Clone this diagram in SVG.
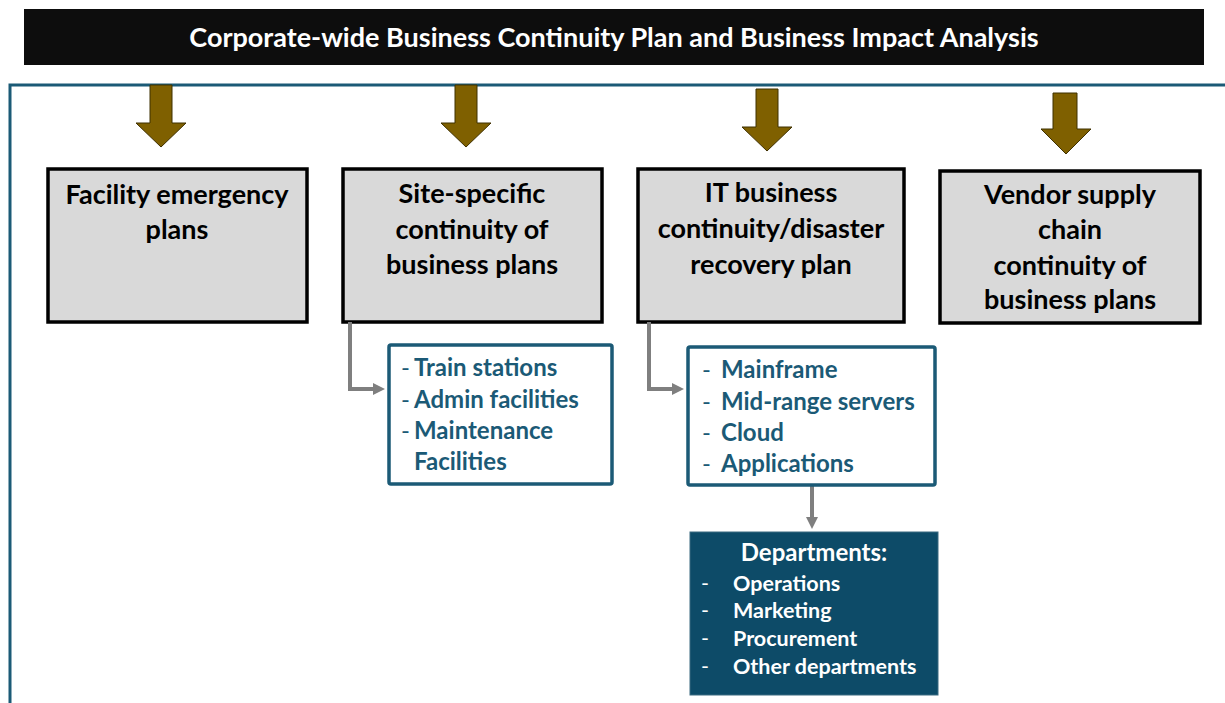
<svg xmlns="http://www.w3.org/2000/svg" width="1225" height="703" viewBox="0 0 1225 703">
<defs>
<style>
.t{font-family:Lato,"Open Sans","Liberation Sans",sans-serif;font-weight:bold}
.title{fill:#fff;font-size:27px}
.box{fill:#d9d9d9;stroke:#000;stroke-width:3.5}
.bt{fill:#000;font-size:27px}
.sub{fill:#fff;stroke:#1b5a76;stroke-width:3.5}
.st{fill:#1b5a76;font-size:24px}
.dash{font-weight:normal}
.dept{fill:#0d4b68;stroke:#3a6a80;stroke-width:1}
.dh{fill:#fff;font-size:24px}
.di{fill:#fff;font-size:21.5px}
.big{fill:#7f6000;stroke:#3f3000;stroke-width:1}
.con{fill:none;stroke:#7f7f7f;stroke-width:4}
</style>
<marker id="ah" markerWidth="12" markerHeight="12" refX="7" refY="6" orient="auto" markerUnits="userSpaceOnUse" viewBox="0 0 12 12">
<path d="M0,0 L12,6 L0,12 Z" fill="#7f7f7f"/>
</marker>
</defs>
<rect width="1225" height="703" fill="#fff"/>
<g id="title">
<rect x="24" y="9" width="1180" height="56" fill="#0d0d0d"/>
<text class="t title" x="614" y="47" text-anchor="middle">Corporate-wide Business Continuity Plan and Business Impact Analysis</text>
</g>
<g id="frame">
<path d="M10,703 L10,85 L1225,85" fill="none" stroke="#1b5a76" stroke-width="3"/>
</g>
<g id="bigarrows">
<path class="big" d="M150,85 L172,85 L172,123 L186,123 L161,147 L136,123 L150,123 Z"/>
<path class="big" d="M455,85 L477,85 L477,123 L491,123 L466,147 L441,123 L455,123 Z"/>
<path class="big" d="M756,89 L778,89 L778,127 L792,127 L767,151 L742,127 L756,127 Z"/>
<path class="big" d="M1053,93 L1077,93 L1077,129 L1091,129 L1066,154 L1041,129 L1053,129 Z"/>
</g>
<g id="facility">
<rect class="box" x="48" y="169" width="259" height="153"/>
<text class="t bt" x="177" y="204" text-anchor="middle">Facility emergency</text>
<text class="t bt" x="177" y="239" text-anchor="middle">plans</text>
</g>
<g id="site">
<rect class="box" x="343" y="169" width="259" height="153"/>
<text class="t bt" x="472" y="203" text-anchor="middle">Site-specific</text>
<text class="t bt" x="472" y="239" text-anchor="middle">continuity of</text>
<text class="t bt" x="472" y="274" text-anchor="middle">business plans</text>
</g>
<g id="it">
<rect class="box" x="638" y="169" width="266" height="153"/>
<text class="t bt" x="771" y="202" text-anchor="middle">IT business</text>
<text class="t bt" x="771" y="238" text-anchor="middle">continuity/disaster</text>
<text class="t bt" x="771" y="274" text-anchor="middle">recovery plan</text>
</g>
<g id="vendor">
<rect class="box" x="940" y="171" width="260" height="152"/>
<text class="t bt" x="1070" y="204" text-anchor="middle">Vendor supply</text>
<text class="t bt" x="1070" y="239" text-anchor="middle">chain</text>
<text class="t bt" x="1070" y="275" text-anchor="middle">continuity of</text>
<text class="t bt" x="1070" y="309" text-anchor="middle">business plans</text>
</g>
<g id="connectors">
<path class="con" d="M350,322 L350,389 L380,389" marker-end="url(#ah)"/>
<path class="con" d="M649,322 L649,389 L679,389" marker-end="url(#ah)"/>
<path class="con" d="M812,486 L812,524" marker-end="url(#ah)"/>
</g>
<g id="sites">
<rect class="sub" x="389" y="345" width="223" height="139" rx="2"/>
<text class="t st dash" x="401" y="376">-</text><text class="t st" x="414" y="376">Train stations</text>
<text class="t st dash" x="401" y="408">-</text><text class="t st" x="414" y="408">Admin facilities</text>
<text class="t st dash" x="401" y="439">-</text><text class="t st" x="414" y="439">Maintenance</text>
<text class="t st" x="414" y="470">Facilities</text>
</g>
<g id="systems">
<rect class="sub" x="688" y="347" width="247" height="138" rx="2"/>
<text class="t st dash" x="702" y="378">-</text><text class="t st" x="721" y="378">Mainframe</text>
<text class="t st dash" x="702" y="410">-</text><text class="t st" x="721" y="410">Mid-range servers</text>
<text class="t st dash" x="702" y="441">-</text><text class="t st" x="721" y="441">Cloud</text>
<text class="t st dash" x="702" y="472">-</text><text class="t st" x="721" y="472">Applications</text>
</g>
<g id="departments">
<rect class="dept" x="690" y="532" width="248" height="163"/>
<text class="t dh" x="814" y="561" text-anchor="middle">Departments:</text>
<text class="t di dash" x="701" y="591">-</text><text class="t di" x="733" y="591">Operations</text>
<text class="t di dash" x="701" y="618">-</text><text class="t di" x="733" y="618">Marketing</text>
<text class="t di dash" x="701" y="646">-</text><text class="t di" x="733" y="646">Procurement</text>
<text class="t di dash" x="701" y="674">-</text><text class="t di" x="733" y="674">Other departments</text>
</g>
</svg>
